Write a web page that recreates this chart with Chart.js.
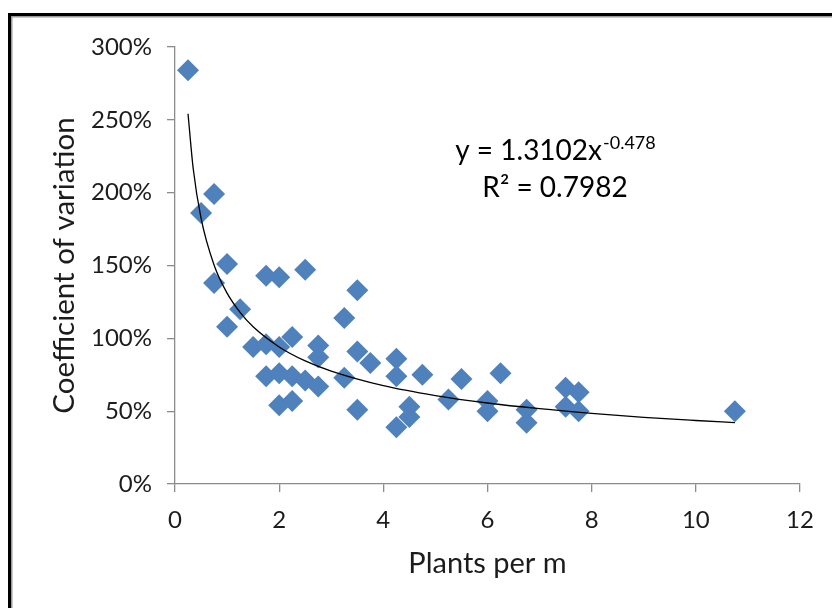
<!DOCTYPE html>
<html>
<head>
<meta charset="utf-8">
<script src="https://cdn.jsdelivr.net/npm/chart.js@4/dist/chart.umd.min.js"></script>
<style>
  html, body { margin: 0; padding: 0; background: #ffffff; }
  #wrap { position: relative; width: 832px; height: 608px; }
</style>
</head>
<body>
<div id="wrap"><canvas id="c" width="832" height="608"></canvas></div>
<script>
// Observed data: plants per m (x) and coefficient of variation in % (y)
const plantsPerM = [0.25, 0.5, 0.75, 0.75, 1.0, 1.0, 1.25, 1.5, 1.75, 1.75, 1.75, 2.0, 2.0, 2.0, 2.0,
  2.25, 2.25, 2.25, 2.5, 2.5, 2.75, 2.75, 2.75, 3.25, 3.25, 3.5, 3.5, 3.5, 3.75, 4.25, 4.25, 4.25,
  4.5, 4.5, 4.75, 5.25, 5.5, 6.0, 6.0, 6.25, 6.75, 6.75, 7.5, 7.5, 7.75, 7.75, 10.75];
const coefVariation = [284, 186, 199, 138, 151, 108, 120, 94, 143, 96, 74, 142, 94, 76, 54,
  101, 74, 57, 147, 71, 95, 87, 67, 114, 73, 133, 91, 51, 83, 86, 74, 39,
  53, 46, 75, 58, 72, 57, 50, 76, 51, 42, 66, 53, 63, 50, 50];

// Power trendline (y = 1.3102 x^-0.478), in %
const trendX = [0.25, 0.35, 0.5, 0.75, 1, 1.25, 1.5, 2, 2.5, 3, 4, 5, 6, 7, 8, 9, 10, 10.75];
const trendY = [254.2, 216.4, 182.5, 150.3, 131.0, 117.8, 107.9, 94.1, 84.5, 77.5, 67.5, 60.7, 55.6, 51.7, 48.5, 45.8, 43.6, 42.1];

const xTicks = [0, 2, 4, 6, 8, 10, 12];
const yTicks = [0, 50, 100, 150, 200, 250, 300];

const equationMain = 'y = 1.3102x';
const equationExp = '-0.478';
const rSquaredText = 'R\u00B2 = 0.7982';
const xTitle = 'Plants per m';
const yTitle = 'Coefficient of variation';

const FONT = 'Lato, "Open Sans", sans-serif';
const TEXT = '#1c1c1c';
const AXIS = '#8c8c8c';
const BLUE = '#4F81BD';

const scatterData = plantsPerM.map((x, i) => ({ x: x, y: coefVariation[i] }));
const trendData = trendX.map((x, i) => ({ x: x, y: trendY[i] }));

const framePlugin = {
  id: 'frame',
  beforeDraw(chart) {
    const ctx = chart.ctx;
    ctx.save();
    ctx.fillStyle = '#ffffff';
    ctx.fillRect(0, 0, chart.width, chart.height);
    ctx.fillStyle = '#000000';
    ctx.fillRect(8, 13, chart.width - 8, 3);
    ctx.fillRect(8, 13, 3, chart.height - 13);
    ctx.fillStyle = '#9a9a9a';
    ctx.fillRect(11, 16, chart.width - 11, 1.5);
    ctx.fillRect(11, 16, 1.5, chart.height - 16);
    ctx.restore();
  }
};

const equationPlugin = {
  id: 'equation',
  afterDatasetsDraw(chart) {
    const ctx = chart.ctx;
    ctx.save();
    ctx.fillStyle = '#000000';
    ctx.textBaseline = 'alphabetic';
    const cx = 555;
    ctx.font = '28px ' + FONT;
    const w1 = ctx.measureText(equationMain).width;
    ctx.font = '18px ' + FONT;
    const w2 = ctx.measureText(equationExp).width;
    const start = cx - (w1 + w2) / 2;
    ctx.font = '28px ' + FONT;
    ctx.textAlign = 'left';
    ctx.fillText(equationMain, start, 160);
    ctx.font = '18px ' + FONT;
    ctx.fillText(equationExp, start + w1 + 1, 149);
    ctx.font = '28px ' + FONT;
    ctx.textAlign = 'center';
    ctx.fillText(rSquaredText, cx, 197);
    ctx.restore();
  }
};

new Chart(document.getElementById('c'), {
  type: 'scatter',
  data: {
    datasets: [
      {
        label: 'CV',
        data: scatterData,
        pointStyle: 'rectRot',
        pointRadius: 11,
        pointHoverRadius: 11,
        backgroundColor: BLUE,
        borderColor: BLUE,
        borderWidth: 0,
        order: 2
      },
      {
        label: 'Power trend',
        type: 'line',
        data: trendData,
        showLine: true,
        pointRadius: 0,
        borderColor: '#000000',
        borderWidth: 1.3,
        cubicInterpolationMode: 'monotone',
        fill: false,
        order: 1
      }
    ]
  },
  options: {
    responsive: false,
    animation: false,
    events: [],
    layout: { padding: { left: 0, top: 47, right: 32, bottom: 0 } },
    plugins: {
      legend: { display: false },
      tooltip: { enabled: false }
    },
    scales: {
      x: {
        type: 'linear',
        min: 0,
        max: 12,
        afterBuildTicks(scale) { scale.ticks = xTicks.map(v => ({ value: v })); },
        afterFit(scale) { scale.height = 124; },
        ticks: {
          font: { family: FONT, size: 24 },
          color: TEXT,
          padding: 14,
          maxRotation: 0,
          callback: v => String(v)
        },
        grid: { drawOnChartArea: false, drawTicks: true, tickLength: 8, color: AXIS, lineWidth: 1.3 },
        border: { display: true, color: AXIS, width: 1.3 },
        title: {
          display: true,
          text: xTitle,
          font: { family: FONT, size: 29 },
          color: TEXT,
          padding: { top: 0, bottom: 27 }
        }
      },
      y: {
        type: 'linear',
        min: 0,
        max: 300,
        afterBuildTicks(scale) { scale.ticks = yTicks.map(v => ({ value: v })); },
        afterFit(scale) { scale.width = 175; },
        ticks: {
          font: { family: FONT, size: 24 },
          color: TEXT,
          padding: 15,
          callback: v => v + '%'
        },
        grid: { drawOnChartArea: false, drawTicks: true, tickLength: 8, color: AXIS, lineWidth: 1.3 },
        border: { display: true, color: AXIS, width: 1.3 },
        title: {
          display: true,
          text: yTitle,
          font: { family: FONT, size: 29.5 },
          color: TEXT,
          padding: { top: 47, bottom: 0 }
        }
      }
    }
  },
  plugins: [framePlugin, equationPlugin]
});
</script>
</body>
</html>
